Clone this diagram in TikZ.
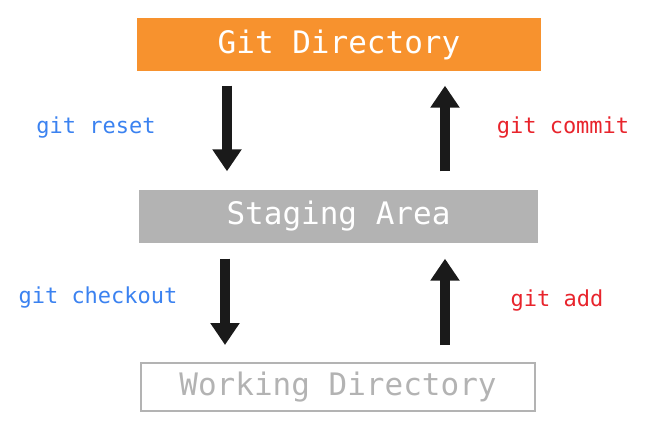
\documentclass[tikz,border=0pt]{standalone}
\usepackage{fontspec}
\setmonofont{DejaVu Sans Mono}
\usetikzlibrary{arrows.meta}
\definecolor{gorange}{HTML}{F7922E}
\definecolor{ggray}{HTML}{B3B3B3}
\definecolor{gblue}{HTML}{3B82F0}
\definecolor{gred}{HTML}{E8242C}
\definecolor{garrow}{HTML}{1A1A1A}
\tikzset{
  box/.style={minimum height=53pt, inner sep=0pt, font=\ttfamily\fontsize{31}{31}\selectfont},
  lbl/.style={font=\ttfamily\fontsize{22}{22}\selectfont},
  bigarrow/.style={draw=garrow, line width=10pt, -{Triangle[width=28pt,length=22pt]}}
}
\begin{document}
\begin{tikzpicture}[x=1pt,y=-1pt]
\useasboundingbox (0,0) rectangle (664,436);
\node[box, fill=gorange, text=white, minimum width=404pt] (gd) at (339,45) {Git Directory};
\node[box, fill=ggray, text=white, minimum width=399pt] (sa) at (338.5,216) {Staging Area};
\node[box, draw=ggray, line width=2pt, text=ggray, minimum width=394pt, minimum height=48pt] (wd) at (338,387) {Working Directory};
\coordinate (a1s) at ([yshift=-14pt]gd.south -| 227,0);
\coordinate (a1e) at ([yshift=18pt]sa.north -| 227,0);
\coordinate (a2s) at ([yshift=18pt]sa.north -| 445,0);
\coordinate (a2e) at ([yshift=-14pt]gd.south -| 445,0);
\coordinate (a3s) at ([yshift=-16pt]sa.south -| 225,0);
\coordinate (a3e) at ([yshift=17pt]wd.north -| 225,0);
\coordinate (a4s) at ([yshift=17pt]wd.north -| 445,0);
\coordinate (a4e) at ([yshift=-16pt]sa.south -| 445,0);
\draw[bigarrow] (a1s) -- (a1e);
\draw[bigarrow] (a2s) -- (a2e);
\draw[bigarrow] (a3s) -- (a3e);
\draw[bigarrow] (a4s) -- (a4e);
\node[lbl, text=gblue] (l1) at (96,128) {git reset};
\node[lbl, text=gred] (l2) at (563,128) {git commit};
\node[lbl, text=gblue] (l3) at (98,298) {git checkout};
\node[lbl, text=gred] (l4) at (557,301) {git add};
\end{tikzpicture}
\end{document}
